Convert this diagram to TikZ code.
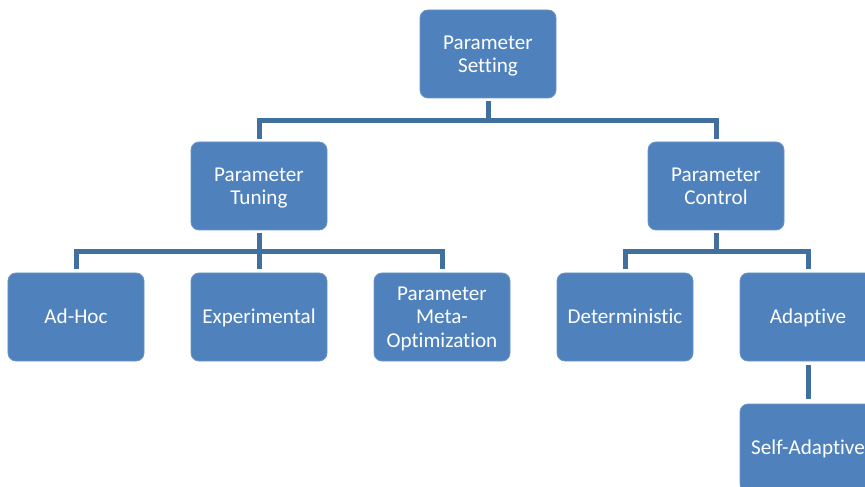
\documentclass[tikz,border=0pt]{standalone}
\usepackage{fontspec}
\setmainfont[Ligatures=NoCommon]{Carlito}
\definecolor{boxfill}{HTML}{4F81BD}
\definecolor{boxline}{HTML}{6C94C8}
\definecolor{linkcol}{HTML}{41709F}
% one caption line with its height and depth hidden, so lines centre on their baselines
\newcommand{\capline}[1]{\smash{#1}}
\begin{document}
\begin{tikzpicture}[x=1bp,y=-1bp,
  block/.style={draw=boxline,line width=0.8bp,fill=boxfill,rounded corners=8bp,
    minimum width=136bp,minimum height=88bp,inner sep=0bp},
  caption/.style={inner sep=0bp,align=center,text=white,yshift=-6.8bp,
    font=\fontsize{21.2}{23.5}\selectfont},
  link/.style={draw=linkcol,line width=5bp,line join=miter,line cap=butt}]
\useasboundingbox (0,0) rectangle (865,487);
\clip (0,0) rectangle (865,487);

% tree boxes
\node[block] (root) at (488,54) {};
\node[block] (tuning) at (259,186) {};
\node[block] (control) at (716,186) {};
\node[block] (adhoc) at (76,317) {};
\node[block] (exper) at (259,317) {};
\node[block] (meta) at (442,317) {};
\node[block] (determ) at (625,317) {};
\node[block] (adapt) at (808,317) {};
\node[block] (selfad) at (808,448) {};

% box captions
\node[caption] (rootT) at (root) {\capline{Parameter}\\\capline{Setting}};
\node[caption] (tuningT) at (tuning) {\capline{Parameter}\\\capline{Tuning}};
\node[caption] (controlT) at (control) {\capline{Parameter}\\\capline{Control}};
\node[caption] (adhocT) at (adhoc) {\capline{Ad-Hoc}};
\node[caption] (experT) at (exper) {\capline{Experimental}};
\node[caption] (metaT) at (meta) {\capline{Parameter}\\\capline{Meta-}\\\capline{Optimization}};
\node[caption] (determT) at (determ) {\capline{Deterministic}};
\node[caption] (adaptT) at (adapt) {\capline{Adaptive}};
\node[caption] (selfadT) at (selfad) {\capline{Self-Adaptive}};

% elbow connectors
\draw[link,shorten <=3bp,shorten >=3bp] (root.south) -- ++(0,22) -| (tuning.north);
\draw[link,shorten <=3bp,shorten >=3bp] (root.south) -- ++(0,22) -| (control.north);
\draw[link,shorten <=3bp,shorten >=4bp] (tuning.south) -- ++(0,21) -| (adhoc.north);
\draw[link,shorten <=3bp,shorten >=4bp] (tuning.south) -- (exper.north);
\draw[link,shorten <=3bp,shorten >=4bp] (tuning.south) -- ++(0,21) -| (meta.north);
\draw[link,shorten <=3bp,shorten >=4bp] (control.south) -- ++(0,21) -| (determ.north);
\draw[link,shorten <=3bp,shorten >=4bp] (control.south) -- ++(0,21) -| (adapt.north);
\draw[link,shorten <=4bp,shorten >=5bp] (adapt.south) -- (selfad.north);
\end{tikzpicture}
\end{document}
